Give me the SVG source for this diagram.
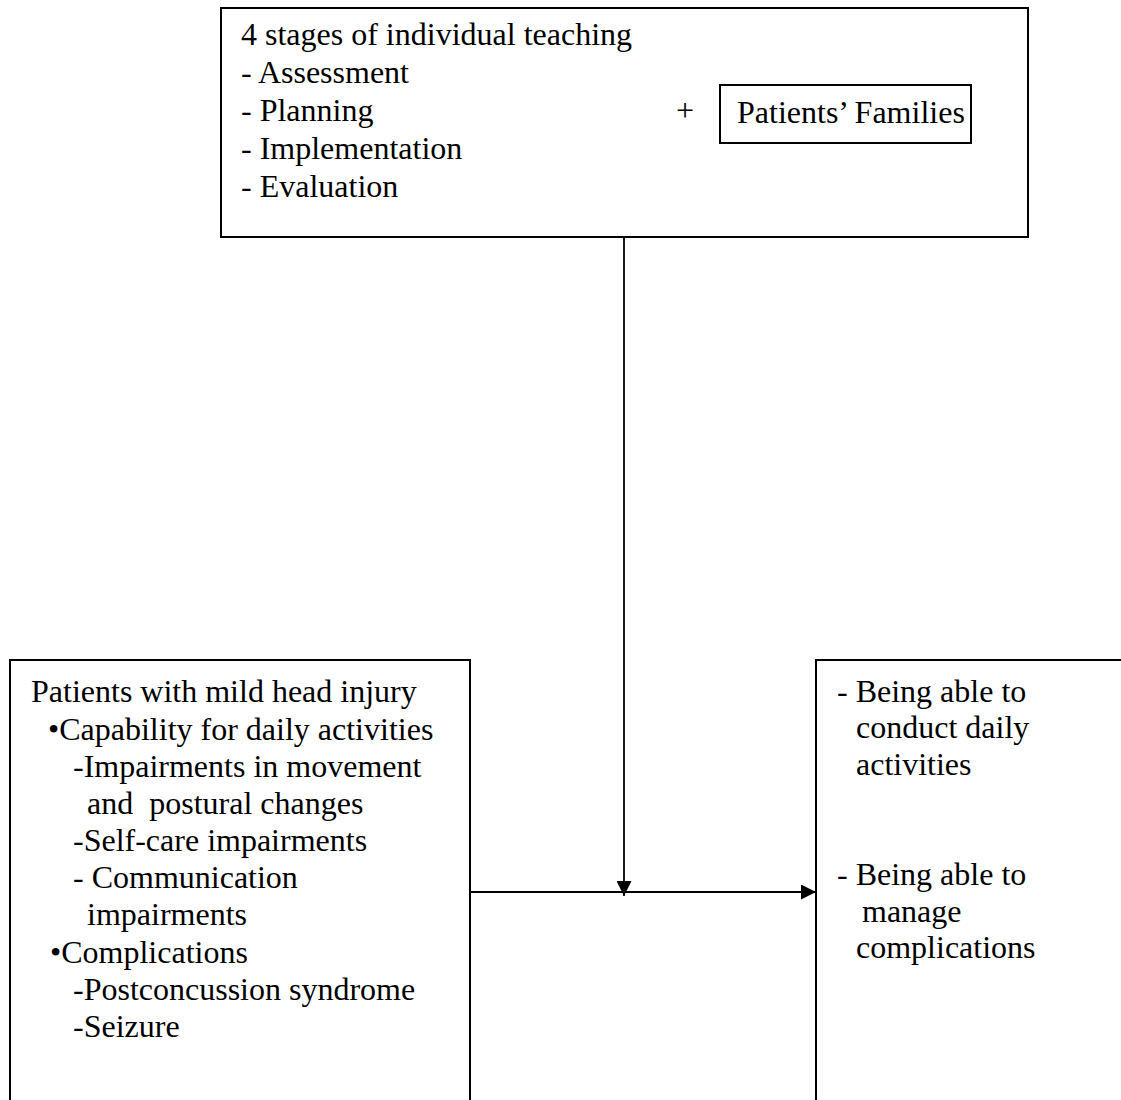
<svg xmlns="http://www.w3.org/2000/svg" width="1121" height="1100" viewBox="0 0 1121 1100">
<defs>
<style>
.box{fill:#fff;stroke:#000;stroke-width:2}
.t{font-family:"Liberation Serif","Times New Roman",serif;font-size:32px;fill:#000;white-space:pre}
.ln{stroke:#000;stroke-width:1.8;fill:none}
</style>
<marker id="ah" viewBox="0 0 15 15" refX="15" refY="7.5" markerWidth="15" markerHeight="15" markerUnits="userSpaceOnUse" orient="auto">
<path d="M0,0 L15,7.5 L0,15 Z" fill="#000"/>
</marker>
</defs>
<rect width="1121" height="1100" fill="#fff"/>
<g id="connectors">
<line class="ln" x1="624" y1="237" x2="624" y2="896" marker-end="url(#ah)"/>
<line class="ln" x1="470" y1="892" x2="816" y2="892" marker-end="url(#ah)"/>
</g>
<g id="top">
<rect class="box" x="221" y="8" width="807" height="229"/>
<text class="t" x="241" y="45">4 stages of individual teaching</text>
<text class="t" x="241" y="83">- Assessment</text>
<text class="t" x="241" y="121">- Planning</text>
<text class="t" x="241" y="159">- Implementation</text>
<text class="t" x="241" y="197">- Evaluation</text>
<text class="t" x="676" y="121">+</text>
</g>
<g id="families">
<rect class="box" x="720" y="85" width="251" height="58"/>
<text class="t" x="737" y="123">Patients’ Families</text>
</g>
<g id="left">
<rect class="box" x="10" y="660" width="460" height="460"/>
<text class="t" x="31" y="702">Patients with mild head injury</text>
<text class="t" x="48" y="740">•Capability for daily activities</text>
<text class="t" x="73" y="777">-Impairments in movement</text>
<text class="t" x="87" y="814" xml:space="preserve">and  postural changes</text>
<text class="t" x="73" y="851">-Self-care impairments</text>
<text class="t" x="73" y="888">- Communication</text>
<text class="t" x="87" y="925">impairments</text>
<text class="t" x="50" y="963">•Complications</text>
<text class="t" x="73" y="1000">-Postconcussion syndrome</text>
<text class="t" x="73" y="1037">-Seizure</text>
</g>
<g id="right">
<rect class="box" x="816" y="660" width="340" height="460"/>
<text class="t" x="837" y="702">- Being able to</text>
<text class="t" x="856" y="738">conduct daily</text>
<text class="t" x="856" y="775">activities</text>
<text class="t" x="837" y="885">- Being able to</text>
<text class="t" x="862" y="922">manage</text>
<text class="t" x="856" y="958">complications</text>
</g>
</svg>
